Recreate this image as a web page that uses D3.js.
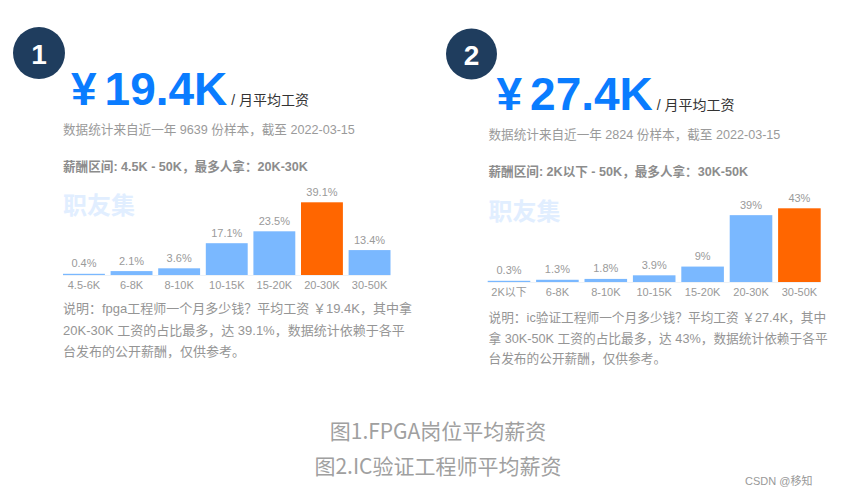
<!DOCTYPE html>
<html>
<head>
<meta charset="utf-8">
<script src="https://cdn.jsdelivr.net/npm/d3@7"></script>
<style>
  html, body { margin: 0; padding: 0; background: #fff; }
  svg { display: block; }
</style>
</head>
<body>
<svg id="chart" width="845" height="497"></svg>
<script>
// ---- data ----
const categories1 = ["4.5-6K", "6-8K", "8-10K", "10-15K", "15-20K", "20-30K", "30-50K"];
const values1 = [0.4, 2.1, 3.6, 17.1, 23.5, 39.1, 13.4];
const categories2 = ["2K以下", "6-8K", "8-10K", "10-15K", "15-20K", "20-30K", "30-50K"];
const values2 = [0.3, 1.3, 1.8, 3.9, 9, 39, 43];

const average1 = "19.4K";
const average2 = "27.4K";
const subtitle1 = "数据统计来自近一年 9639 份样本，截至 2022-03-15";
const subtitle2 = "数据统计来自近一年 2824 份样本，截至 2022-03-15";
const range1 = "薪酬区间: 4.5K - 50K，最多人拿：20K-30K";
const range2 = "薪酬区间: 2K以下 - 50K，最多人拿：30K-50K";
const desc1 = ["说明：fpga工程师一个月多少钱？平均工资 ￥19.4K，其中拿",
               "20K-30K 工资的占比最多，达 39.1%，数据统计依赖于各平",
               "台发布的公开薪酬，仅供参考。"];
const desc2 = ["说明：ic验证工程师一个月多少钱？平均工资 ￥27.4K，其中",
               "拿 30K-50K 工资的占比最多，达 43%，数据统计依赖于各平",
               "台发布的公开薪酬，仅供参考。"];
const captions = ["图1.FPGA岗位平均薪资", "图2.IC验证工程师平均薪资"];
const credit = "CSDN @移知";

// ---- styling ----
const FONT = "'Liberation Sans', Arial, 'Noto Sans CJK SC', sans-serif";
const BLUE_BAR = "#7ab8ff";
const ORANGE = "#ff6600";
const BIG_BLUE = "#0a7cff";
const NAVY = "#1f3d5e";

const svg = d3.select("#chart");

function drawPanel(cfg) {
  const g = svg.append("g");
  // badge
  g.append("circle").attr("cx", cfg.badge[0]).attr("cy", cfg.badge[1]).attr("r", cfg.badge[2]).attr("fill", NAVY);
  g.append("text").attr("x", cfg.badge[0]).attr("y", cfg.badge[1] + 11)
    .attr("text-anchor", "middle").attr("font-family", FONT).attr("font-weight", "bold")
    .attr("font-size", 28).attr("fill", "#fff").text(cfg.num);

  // big number
  const big = g.append("text").attr("x", cfg.x0 + 8).attr("y", cfg.bigY)
    .attr("font-family", FONT).attr("font-weight", "bold").attr("font-size", 46).attr("fill", BIG_BLUE);
  big.append("tspan").text("¥");
  big.append("tspan").attr("dx", 8).text(cfg.avg);
  big.append("tspan").attr("dx", 4).attr("font-size", 14).attr("font-weight", "normal")
    .attr("fill", "#333").text("/ 月平均工资");

  g.append("text").attr("x", cfg.x0).attr("y", cfg.subY).attr("font-family", FONT)
    .attr("font-size", 12.6).attr("fill", "#9a9a9a").text(cfg.sub);
  g.append("text").attr("x", cfg.x0).attr("y", cfg.rangeY).attr("font-family", FONT)
    .attr("font-size", 12.6).attr("font-weight", "bold").attr("fill", "#8c8c8c").text(cfg.range);
  g.append("text").attr("x", cfg.x0).attr("y", cfg.wmY).attr("font-family", FONT)
    .attr("font-size", 24).attr("font-weight", "bold").attr("fill", "#e1eeff").text("职友集");

  // bars
  const x = d3.scaleBand().domain(cfg.cats).range(cfg.xr).paddingInner(0.12).paddingOuter(0);
  const y = d3.scaleLinear().domain([0, d3.max(cfg.vals)]).range([cfg.base, cfg.top]);
  const maxV = d3.max(cfg.vals);
  const data = cfg.cats.map((c, i) => ({ c, v: cfg.vals[i] }));

  g.append("line").attr("x1", cfg.xr[0]).attr("x2", cfg.xr[1]).attr("y1", cfg.base + 0.5).attr("y2", cfg.base + 0.5)
    .attr("stroke", "#eef2f6").attr("stroke-width", 1);

  g.selectAll("rect.bar").data(data).join("rect").attr("class", "bar")
    .attr("x", d => x(d.c)).attr("width", x.bandwidth())
    .attr("y", d => Math.min(y(d.v), cfg.base - 1.2))
    .attr("height", d => Math.max(cfg.base - y(d.v), 1.2))
    .attr("fill", d => d.v === maxV ? ORANGE : BLUE_BAR);

  g.selectAll("text.val").data(data).join("text").attr("class", "val")
    .attr("x", d => x(d.c) + x.bandwidth() / 2)
    .attr("y", d => Math.min(y(d.v), cfg.base - 1.2) - 6.5)
    .attr("text-anchor", "middle").attr("font-family", FONT).attr("font-size", 11)
    .attr("fill", "#9a9a9a").text(d => d.v + "%");

  const axis = d3.axisBottom(x).tickSize(0).tickPadding(0);
  const ax = g.append("g").attr("transform", `translate(0,${cfg.base})`).call(axis);
  ax.select(".domain").remove();
  ax.selectAll("text").attr("dy", null).attr("y", 13.5).attr("font-family", FONT)
    .attr("font-size", 11).attr("fill", "#999");

  // description
  g.selectAll("text.desc").data(cfg.desc).join("text").attr("class", "desc")
    .attr("x", cfg.x0).attr("y", (d, i) => cfg.descY + i * cfg.descStep)
    .attr("font-family", FONT).attr("font-size", cfg.descSize).attr("fill", "#959595").text(d => d);
}

drawPanel({
  num: "1", badge: [39, 53, 26], x0: 63, avg: average1, bigY: 105,
  sub: subtitle1, subY: 134, range: range1, rangeY: 170.5, wmY: 213.5,
  cats: categories1, vals: values1, xr: [63, 390.5], base: 275, top: 202.3,
  desc: desc1, descY: 313, descStep: 21.5, descSize: 13
});
drawPanel({
  num: "2", badge: [471.5, 54, 25.5], x0: 488.5, avg: average2, bigY: 110,
  sub: subtitle2, subY: 139, range: range2, rangeY: 176, wmY: 220,
  cats: categories2, vals: values2, xr: [487.7, 820.7], base: 282, top: 208.3,
  desc: desc2, descY: 322, descStep: 20.5, descSize: 12.7
});

// captions
svg.selectAll("text.cap").data(captions).join("text").attr("class", "cap")
  .attr("x", 438).attr("y", (d, i) => 439 + i * 35)
  .attr("text-anchor", "middle").attr("font-family", "'Noto Sans CJK SC', sans-serif")
  .attr("font-size", 21).attr("fill", "#a0a0a0").text(d => d);

svg.append("text").attr("x", 745).attr("y", 485).attr("font-family", FONT)
  .attr("font-size", 11).attr("fill", "#999").text(credit);
</script>
</body>
</html>
